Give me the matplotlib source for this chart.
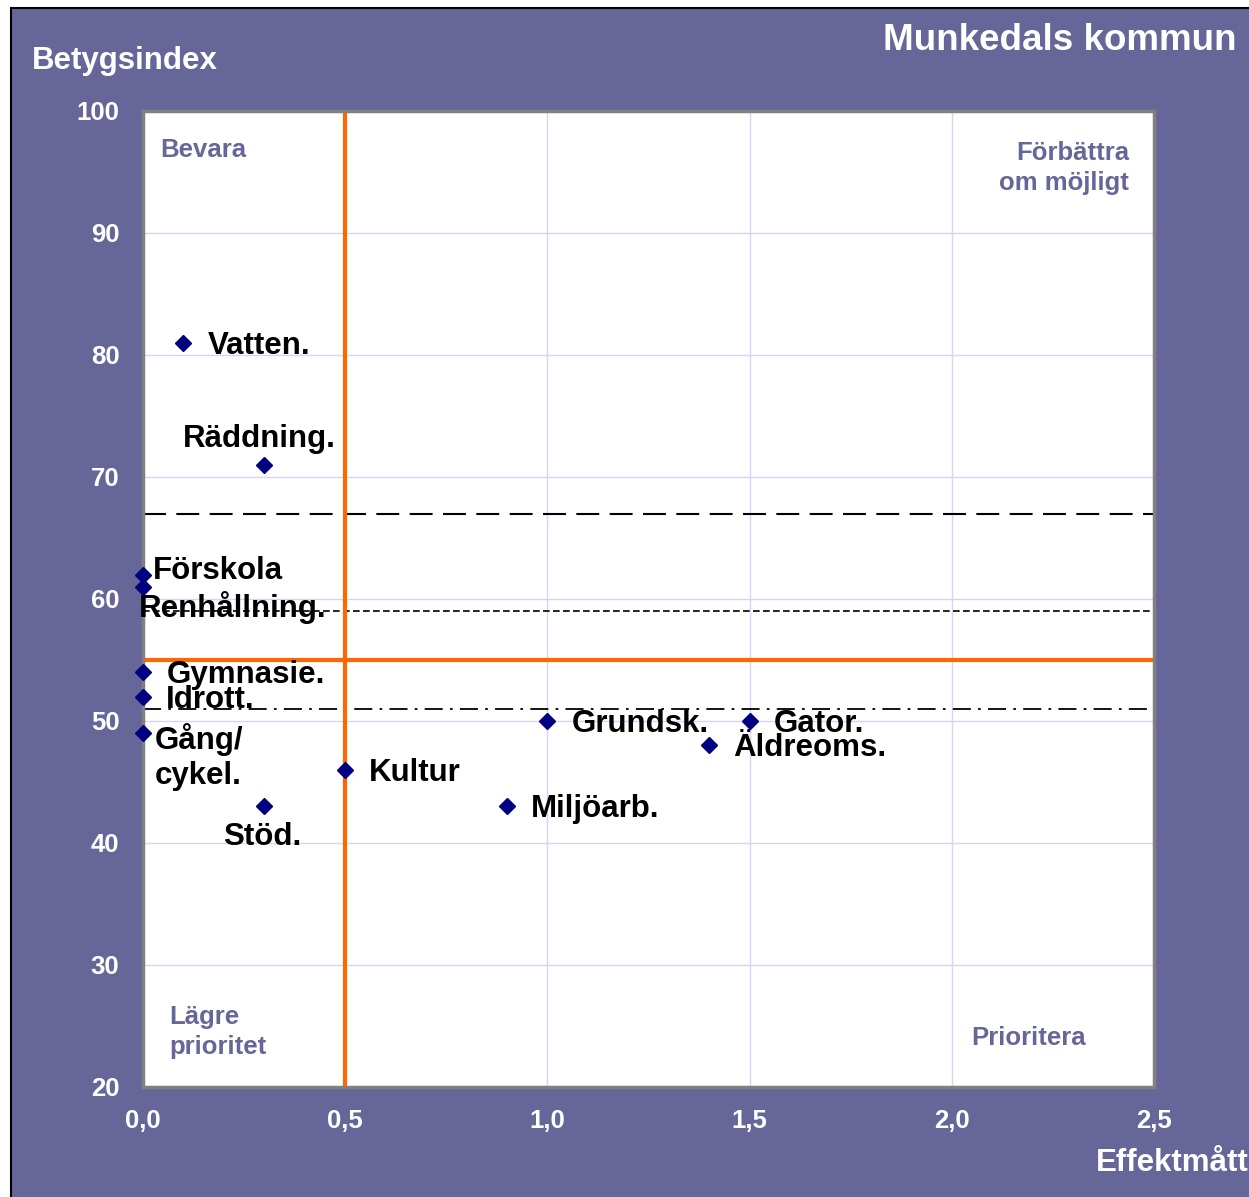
import matplotlib.pyplot as plt
from matplotlib.patches import Rectangle

plt.rcParams['font.family'] = ['Liberation Sans', 'DejaVu Sans']
plt.rcParams['font.weight'] = 'bold'

# data
names = ['Vatten.', 'Räddning.', 'Förskola', 'Renhållning.', 'Gymnasie.', 'Idrott.',
         'Gång/\ncykel.', 'Stöd.', 'Kultur', 'Grundsk.', 'Gator.', 'Äldreoms.', 'Miljöarb.']
effekt = [0.1, 0.3, 0.0, 0.0, 0.0, 0.0, 0.0, 0.3, 0.5, 1.0, 1.5, 1.4, 0.9]
betyg = [81, 71, 62, 61, 54, 52, 49, 43, 46, 50, 50, 48, 43]
# label offsets in pixels (dx, dy, ha)
offs = [(24, -3, 'left'), (-5, 26, 'center'), (10, 4, 'left'), (-4, -21, 'left'),
        (24, -3, 'left'), (23, -3, 'left'), (12, -24, 'left'), (-2, -31, 'center'),
        (24, -3, 'left'), (24, -3, 'left'), (24, -3, 'left'), (24, -3, 'left'), (24, -3, 'left')]

x_ticks = [0.0, 0.5, 1.0, 1.5, 2.0, 2.5]
x_ticklabels = ['0,0', '0,5', '1,0', '1,5', '2,0', '2,5']
y_ticks = [20, 30, 40, 50, 60, 70, 80, 90, 100]

split_x = 0.5
split_y = 55
ref_long = 67
ref_short = 59
ref_dashdot = 51

purple = '#666699'

fig = plt.figure(figsize=(12.49, 11.97), dpi=100, facecolor='white')
fig.patches.append(Rectangle((11 / 1249, -0.05), 1.1, (1197 - 8) / 1197 + 0.05,
                             transform=fig.transFigure, facecolor=purple,
                             edgecolor='black', linewidth=1.5, zorder=-10))

ax = fig.add_axes([143 / 1249, 110 / 1197, 1011 / 1249, 976 / 1197], zorder=2)
ax.set_facecolor('white')
ax.set_xlim(0, 2.5)
ax.set_ylim(20, 100)
ax.set_xticks(x_ticks)
ax.set_xticklabels(x_ticklabels)
ax.set_yticks(y_ticks)
ax.tick_params(length=0, colors='white', labelsize=18.5)
ax.tick_params(axis='x', pad=16)
ax.tick_params(axis='y', pad=17)
ax.grid(True, color='#d4d4f4', linewidth=1)
ax.set_axisbelow(True)
for s in ax.spines.values():
    s.set_color('#808080')
    s.set_linewidth(2.5)

ax.axhline(ref_long, color='black', linewidth=1.5, dashes=(11, 5))
ax.axhline(ref_short, color='black', linewidth=1.2, dashes=(4, 2))
ax.axhline(ref_dashdot, color='black', linewidth=1.3, dashes=(10, 4, 1.5, 4))
ax.axvline(split_x, color='#ff6600', linewidth=3)
ax.axhline(split_y, color='#ff6600', linewidth=3)

ax.plot(effekt, betyg, linestyle='none', marker='D', markersize=8,
        color='#000080', clip_on=False, zorder=5)

for n, xv, yv, (dx, dy, ha) in zip(names, effekt, betyg, offs):
    ax.annotate(n, (xv, yv), xytext=(dx, dy), textcoords='offset pixels',
                ha=ha, va='center', fontsize=22.5, fontweight='bold', color='black',
                linespacing=1.2, zorder=6)

ax.text(160 / 1249, (1197 - 150) / 1197, 'Bevara', transform=fig.transFigure,
        color=purple, fontsize=18.5, ha='left', va='center')
ax.text(1129 / 1249, (1197 - 168) / 1197, 'Förbättra\nom möjligt', transform=fig.transFigure,
        color=purple, fontsize=18.5, ha='right', va='center', multialignment='right',
        linespacing=1.35)
ax.text(169 / 1249, (1197 - 1032) / 1197, 'Lägre\nprioritet', transform=fig.transFigure,
        color=purple, fontsize=18.5, ha='left', va='center', linespacing=1.35)
ax.text(971 / 1249, (1197 - 1038) / 1197, 'Prioritera', transform=fig.transFigure,
        color=purple, fontsize=18.5, ha='left', va='center')

fig.text(32 / 1249, (1197 - 61) / 1197, 'Betygsindex', color='white', fontsize=22.5,
         ha='left', va='center')
fig.text(883 / 1249, (1197 - 40) / 1197, 'Munkedals kommun', color='white', fontsize=26.5,
         ha='left', va='center')
fig.text(1096 / 1249, (1197 - 1163) / 1197, 'Effektmått', color='white', fontsize=22.5,
         ha='left', va='center')

fig.savefig('out.png', dpi=100, facecolor='white')
